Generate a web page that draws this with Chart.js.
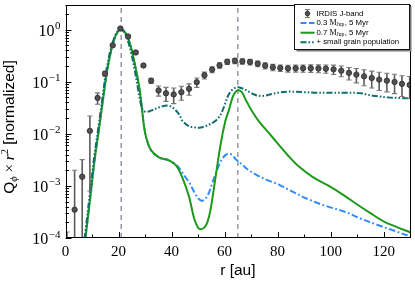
<!DOCTYPE html>
<html><head><meta charset="utf-8">
<script src="https://cdn.jsdelivr.net/npm/chart.js@4.4.1/dist/chart.umd.min.js"></script>
<style>html,body{margin:0;padding:0;background:#fff}#wrap{width:415px;height:284px}</style>
</head><body><div id="wrap"><canvas id="c" width="415" height="284"></canvas></div>
<script>
// ---- observations (IRDIS J-band) ----
const obsR   = [0.57,3.44,6.3,9.2,12.1,14.9,17.8,20.7,23.6,26.5,29.4,32.3,35.1,37.9,40.8,43.7,46.6,49.5,52.4,55.3,58.1,61.0,63.9,66.7,69.6,72.5,75.3,78.2,81.0,83.9,86.8,89.6,92.5,95.4,98.2,101.1,104.0,106.9,109.7,112.6,115.5,118.3,121.2,124.1,126.9,129.8];
const obsVal = [3e-5,3.5e-4,1.5e-3,0.0114,0.049,0.143,0.50,1.05,0.74,0.365,0.205,0.105,0.068,0.060,0.057,0.063,0.073,0.098,0.133,0.171,0.206,0.242,0.253,0.246,0.239,0.222,0.203,0.189,0.183,0.180,0.181,0.181,0.181,0.180,0.178,0.173,0.163,0.148,0.137,0.127,0.118,0.110,0.105,0.099,0.091,0.087];
const obsErr = [1.0e-4,1.65e-3,1.7e-3,0.0106,0.012,0.015,0.03,0.05,0.04,0.02,0.012,0.012,0.015,0.018,0.019,0.019,0.018,0.02,0.02,0.022,0.025,0.028,0.03,0.03,0.03,0.028,0.027,0.026,0.026,0.027,0.028,0.029,0.03,0.031,0.032,0.035,0.038,0.04,0.042,0.043,0.042,0.042,0.041,0.04,0.039,0.039];

// ---- 0.7 Mjup, 5 Myr ----
const m07R   = [6.8,8,9.5,11,12.5,14,15.5,17,18.5,20,21,22,23.5,25,26.5,27.8,28.8,29.6,30.6,32.3,35.4,39,41.6,44,46.6,48.5,50,51,52.3,53.5,54.7,56.6,58.5,60.3,61.6,63,64.2,65.3,66.5,68,70.3,72.8,76.6,80.3,84,87.8,93,99,105,110.3,115,120.3,125,130];
const m07Val = [5.0e-5,1.6e-4,7.1e-4,3.2e-3,0.0112,0.040,0.141,0.355,0.676,0.955,1.02,0.955,0.708,0.398,0.178,0.0794,0.0316,0.0141,7.9e-3,4.8e-3,3.5e-3,3.1e-3,2.5e-3,1.48e-3,6.2e-4,2.4e-4,1.58e-4,1.48e-4,1.58e-4,2.0e-4,3.5e-4,1.48e-3,6.3e-3,0.0178,0.0282,0.050,0.0646,0.0684,0.063,0.0447,0.0275,0.0178,0.0105,6.3e-3,3.8e-3,2.4e-3,1.51e-3,1.02e-3,6.6e-4,4.3e-4,3.0e-4,2.04e-4,1.62e-4,1.29e-4];

// ---- 0.3 Mjup, 5 Myr ----
const m03R   = [6.8,8,9.5,11,12.5,14,15.5,17,18.5,20,21,22,23.5,25,26.5,27.8,28.8,29.6,30.6,32.3,35.4,39,41.5,42.9,44.5,46.6,49.1,50.5,51.6,53,54.1,55.3,56.6,58,59.1,60.3,61.5,62.6,64.1,66.5,69.1,72.5,76.6,80.3,84,92.8,99,105.3,111,117.7,124,130];
const m03Val = [5.0e-5,1.6e-4,7.1e-4,3.2e-3,0.0112,0.040,0.141,0.355,0.676,0.955,1.02,0.955,0.708,0.398,0.178,0.0794,0.0316,0.0141,7.9e-3,4.8e-3,3.5e-3,3.1e-3,2.6e-3,2.2e-3,1.66e-3,1.17e-3,6.8e-4,5.5e-4,5.2e-4,5.9e-4,7.4e-4,1.12e-3,1.7e-3,2.6e-3,3.3e-3,3.9e-3,4.2e-3,4.0e-3,3.3e-3,2.6e-3,2.0e-3,1.58e-3,1.26e-3,1.07e-3,8.5e-4,5.2e-4,4.0e-4,3.2e-4,2.4e-4,1.78e-4,1.38e-4,1.07e-4];

// ---- + small grain population ----
const sgR   = [6.5,7.7,9.2,10.7,12.2,13.7,15.2,16.7,18.3,19.8,20.8,22,23.3,24.8,26.2,27.4,28.4,29.3,30.5,32.5,35.4,37.5,39.1,41,42.9,44.1,46.5,49.1,51,52.9,55,56.6,58,59.1,60.5,61.6,63,64.3,65.3,66.8,69.1,71,72.8,75,76.6,80.3,84,90,94,100,105.3,111.5,114,117.7,121.5,125,130];
const sgVal = [5.0e-5,1.6e-4,7.1e-4,3.2e-3,0.0112,0.040,0.141,0.355,0.676,0.955,1.0,0.91,0.66,0.355,0.158,0.0708,0.038,0.0282,0.0263,0.0282,0.0324,0.0347,0.0347,0.0302,0.0234,0.0178,0.0141,0.0132,0.0132,0.0141,0.0158,0.0178,0.0214,0.0269,0.0417,0.0575,0.0708,0.0776,0.0785,0.0741,0.0646,0.0575,0.0537,0.0537,0.0562,0.0617,0.0646,0.0631,0.0617,0.0617,0.0617,0.0603,0.0562,0.0525,0.0501,0.049,0.0479];

// ---- reference radii (dashed lines) and ticks ----
const gapR = [21, 65];
const xTickValues = [0,20,40,60,80,100,120];
const xTickLabels = ['0','20','40','60','80','100','120'];
const xMinorValues = [10,30,50,70,90,110,130];
const yTickValues = [1e-4,1e-3,1e-2,1e-1,1];
const yTickExp = ['\u22124','\u22123','\u22122','\u22121','0'];
const legendLabels = ['IRDIS J-band','0.3','0.7','+ small grain population'];

const C_BLUE='#2e8dfb', C_GREEN='#1b9a1b', C_TEAL='#106e6e';
const YMIN=1e-4, YMAX=3;

const pts=(xs,ys)=>xs.map((x,i)=>({x:x,y:ys[i]}));
const datasets=[];
datasets.push({label:'obs',data:pts(obsR,obsVal),showLine:false,pointRadius:2.7,pointBackgroundColor:'#505050',pointBorderColor:'#2a2a2a',pointBorderWidth:0.8,order:0});
datasets.push({label:'sg',data:pts(sgR,sgVal),borderColor:C_TEAL,borderWidth:2,borderDash:[6,2,1.6,2,1.6,2],pointRadius:0,tension:0.35,order:1});
datasets.push({label:'m07',data:pts(m07R,m07Val),borderColor:C_GREEN,borderWidth:2,pointRadius:0,tension:0.35,order:2});
datasets.push({label:'m03',data:pts(m03R,m03Val),borderColor:C_BLUE,borderWidth:2,borderDash:[6.5,2.5,1.8,2.5],pointRadius:0,tension:0.35,order:3});
gapR.forEach((g,i)=>datasets.push({label:'gap'+i,data:[{x:g,y:YMIN},{x:g,y:YMAX}],borderColor:'#7d8a98',borderWidth:1.3,borderDash:[5,4],pointRadius:0,order:4}));

const deco={
  id:'deco',
  beforeDatasetDraw(chart,args){
    if(args.index!==0) return;
    const ctx=chart.ctx, xs=chart.scales.x, ys=chart.scales.y, ca=chart.chartArea;
    ctx.save(); ctx.beginPath(); ctx.rect(ca.left,ca.top,ca.right-ca.left,ca.bottom-ca.top); ctx.clip();
    for(let i=0;i<obsR.length;i++){
      const px=xs.getPixelForValue(obsR[i]);
      const hi=obsVal[i]+obsErr[i], lo=obsVal[i]-obsErr[i];
      const pyH=ys.getPixelForValue(hi);
      const pyL= lo>0? ys.getPixelForValue(lo) : ca.bottom+20;
      ctx.strokeStyle='#5c5c5c'; ctx.lineWidth=1.6;
      ctx.beginPath(); ctx.moveTo(px,pyH); ctx.lineTo(px,pyL); ctx.stroke();
      ctx.strokeStyle='#7a7a7a'; ctx.lineWidth=1.1;
      ctx.beginPath(); ctx.moveTo(px-2.6,pyH); ctx.lineTo(px+2.6,pyH); ctx.moveTo(px-2.6,pyL); ctx.lineTo(px+2.6,pyL); ctx.stroke();
    }
    ctx.restore();
  },
  afterDraw(chart){
    const ctx=chart.ctx, xs=chart.scales.x, ys=chart.scales.y, ca=chart.chartArea;
    ctx.save();
    // frame
    ctx.strokeStyle='#000'; ctx.lineWidth=1;
    ctx.strokeRect(Math.round(ca.left)+0.5,Math.round(ca.top)+0.5,Math.round(ca.right-ca.left)-1,Math.round(ca.bottom-ca.top)-1);
    // x ticks inside
    ctx.beginPath();
    xTickValues.forEach(v=>{const p=Math.round(xs.getPixelForValue(v))+0.5; ctx.moveTo(p,ca.bottom); ctx.lineTo(p,ca.bottom-6);});
    xMinorValues.forEach(v=>{const p=Math.round(xs.getPixelForValue(v))+0.5; ctx.moveTo(p,ca.bottom); ctx.lineTo(p,ca.bottom-3.5);});
    // y ticks inside
    yTickValues.forEach(v=>{const p=Math.round(ys.getPixelForValue(v))+0.5; ctx.moveTo(ca.left,p); ctx.lineTo(ca.left+6,p);
      for(let m=2;m<=9;m++){const mv=v*m; if(mv<=YMAX){const q=Math.round(ys.getPixelForValue(mv))+0.5; ctx.moveTo(ca.left,q); ctx.lineTo(ca.left+3.5,q);}}});
    ctx.stroke();
    // x tick labels
    ctx.fillStyle='#000'; ctx.textAlign='center'; ctx.textBaseline='middle';
    ctx.font='15px "Liberation Serif"';
    xTickValues.forEach((v,i)=>ctx.fillText(xTickLabels[i],xs.getPixelForValue(v),252.5));
    // y tick labels
    ctx.textBaseline='alphabetic';
    yTickValues.forEach((v,i)=>{
      const p=ys.getPixelForValue(v);
      ctx.font='11px "Liberation Serif"'; ctx.textAlign='right';
      const ew=ctx.measureText(yTickExp[i]).width;
      const xr=60.5;
      ctx.fillText(yTickExp[i],xr,p-0.5);
      ctx.font='16px "Liberation Serif"'; ctx.fillText('10',xr-ew-0.5,p+6);
    });
    // axis titles
    ctx.textAlign='center'; ctx.font='15.5px "Liberation Sans"';
    ctx.fillText('r [au]',(ca.left+ca.right)/2,275);
    ctx.save();
    ctx.translate(13.5,127); ctx.rotate(-Math.PI/2);
    const parts=[
      {t:'Q',f:'15.5px "Liberation Sans"',dy:0},
      {t:'\u03d5',f:'italic 10.5px "Liberation Serif"',dy:3.5},
      {t:' \u00d7 ',f:'15px "Liberation Serif"',dy:0},
      {t:'r',f:'italic 15.5px "Liberation Serif"',dy:0},
      {t:'2',f:'10.5px "Liberation Serif"',dy:-6},
      {t:' [normalized]',f:'15.5px "Liberation Sans"',dy:0}
    ];
    let tw=0; parts.forEach(p=>{ctx.font=p.f; p.w=ctx.measureText(p.t).width; tw+=p.w;});
    let cx=-tw/2; ctx.textAlign='left';
    parts.forEach(p=>{ctx.font=p.f; ctx.fillText(p.t,cx,p.dy); cx+=p.w;});
    ctx.restore();
    // legend
    const bx=294.5,by=4.5,bw=115,bh=45;
    ctx.fillStyle='#7a7a7a'; ctx.fillRect(bx+2,by+2,bw,bh);
    ctx.fillStyle='#fff'; ctx.fillRect(bx,by,bw,bh);
    ctx.strokeStyle='#000'; ctx.lineWidth=0.9; ctx.strokeRect(bx,by,bw,bh);
    const rows=[13.5,23,32.7,42.3];
    const lx0=300.5, lx1=314.5, tx=316.5;
    ctx.strokeStyle='#5c5c5c'; ctx.lineWidth=1.4;
    ctx.beginPath(); ctx.moveTo(307.5,rows[0]-4); ctx.lineTo(307.5,rows[0]+4); ctx.stroke();
    ctx.strokeStyle='#7a7a7a'; ctx.lineWidth=1;
    ctx.beginPath(); ctx.moveTo(305,rows[0]-4); ctx.lineTo(310,rows[0]-4); ctx.moveTo(305,rows[0]+4); ctx.lineTo(310,rows[0]+4); ctx.stroke();
    ctx.fillStyle='#505050'; ctx.strokeStyle='#2a2a2a'; ctx.lineWidth=0.8;
    ctx.beginPath(); ctx.arc(307.5,rows[0],2.3,0,Math.PI*2); ctx.fill(); ctx.stroke();
    const seg=(y,col,dash)=>{ctx.strokeStyle=col; ctx.lineWidth=2; ctx.setLineDash(dash); ctx.beginPath(); ctx.moveTo(lx0,y); ctx.lineTo(lx1,y); ctx.stroke(); ctx.setLineDash([]);};
    seg(rows[1],C_BLUE,[6,2.5]);
    seg(rows[2],C_GREEN,[]);
    seg(rows[3],C_TEAL,[6,2,1.6,2,1.6,2]);
    ctx.fillStyle='#000'; ctx.textAlign='left'; ctx.textBaseline='middle';
    const sans='7.8px "Liberation Sans"';
    ctx.font=sans; ctx.fillText(legendLabels[0],tx,rows[0]);
    [[rows[1],legendLabels[1]],[rows[2],legendLabels[2]]].forEach(([y,num])=>{
      let x=tx; ctx.font=sans; ctx.fillText(num+' ',x,y); x+=ctx.measureText(num+' ').width;
      ctx.font='8px "Liberation Serif"'; ctx.fillText('M',x,y); x+=ctx.measureText('M').width;
      ctx.font='5.6px "Liberation Serif"'; ctx.fillText('Jup',x,y+2); x+=ctx.measureText('Jup').width+0.3;
      ctx.font=sans; ctx.fillText(', 5 Myr',x,y);
    });
    ctx.font=sans; ctx.fillText(legendLabels[3],tx,rows[3]);
    ctx.restore();
  }
};

new Chart(document.getElementById('c'),{
  type:'line',
  data:{datasets:datasets},
  options:{
    responsive:false,animation:false,
    layout:{padding:{left:0,right:2,top:2,bottom:0}},
    plugins:{legend:{display:false},tooltip:{enabled:false}},
    scales:{
      x:{type:'linear',min:0,max:130,
        grid:{display:false,drawTicks:false},border:{display:false},
        ticks:{display:false},
        afterFit(s){s.height=46;}},
      y:{type:'logarithmic',min:YMIN,max:YMAX,
        grid:{display:false,drawTicks:false},border:{display:false},
        ticks:{display:false},
        afterFit(s){s.width=65.5;}}
    }
  },
  plugins:[deco]
});
</script></body></html>
